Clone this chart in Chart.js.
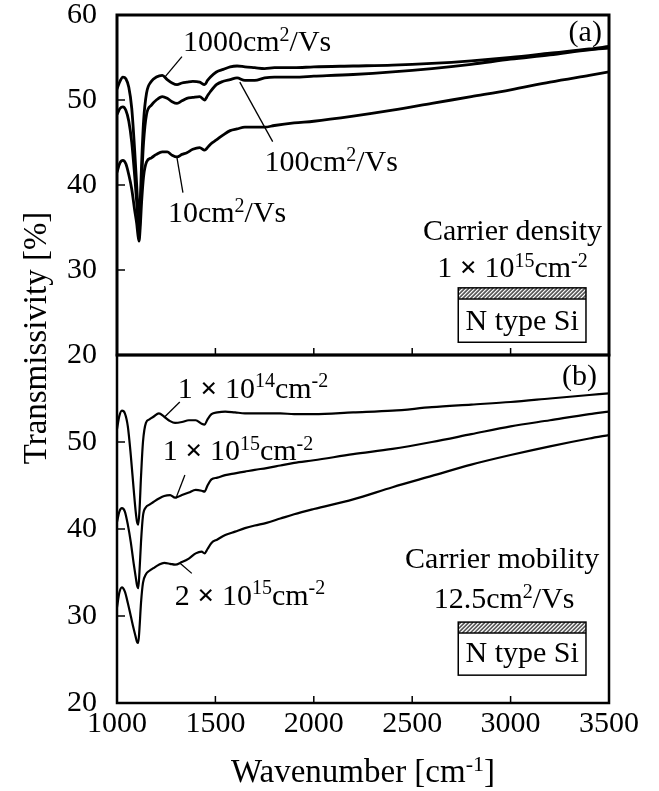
<!DOCTYPE html>
<html>
<head>
<meta charset="utf-8">
<title>Transmissivity spectra</title>
<script src="https://cdn.jsdelivr.net/npm/chart.js@4.4.0/dist/chart.umd.min.js"></script>
<style>
  body { margin: 0; background: #fff; }
  #wrap { position: relative; width: 659px; height: 791px; }
  #wrap canvas { position: absolute; left: 0; top: 0; }
</style>
</head>
<body>
<div id="wrap">
  <canvas id="panelA" width="659" height="791"></canvas>
  <canvas id="panelB" width="659" height="791"></canvas>
</div>
<script>
// (a) mobility series, carrier density 1e15 cm-2
const waveA = [1000, 1015, 1030, 1045, 1060, 1075, 1090, 1100, 1106, 1112, 1118, 1125, 1135, 1150, 1175, 1200,
  1230, 1255, 1280, 1305, 1330, 1355, 1385, 1420, 1445, 1460, 1475, 1505, 1540, 1575, 1610, 1650, 1700, 1750,
  1800, 1900, 2000, 2200, 2400, 2600, 2800, 3000, 3200, 3400, 3500];
const mob1000 = [51.3, 52.2, 52.7, 52.5, 51.5, 49.0, 44.0, 40.0, 37.5, 35.5, 38.0, 42.5, 47.5, 50.8, 52.2, 52.7,
  52.9, 52.4, 52.0, 51.8, 52.0, 52.1, 52.2, 52.1, 51.8, 52.3, 52.7, 53.3, 53.6, 53.9, 54.0, 53.9, 53.8, 53.7,
  53.8, 53.8, 53.9, 54.0, 54.1, 54.3, 54.6, 55.0, 55.5, 56.0, 56.3];
const mob100 = [48.3, 49.0, 49.2, 48.8, 47.5, 45.0, 41.0, 38.0, 36.0, 34.5, 36.5, 40.5, 45.0, 48.3, 49.4, 50.0,
  50.4, 50.2, 49.8, 49.6, 49.9, 50.2, 50.3, 50.4, 50.0, 50.5, 51.0, 51.8, 52.2, 52.4, 52.6, 52.3, 52.3, 52.6,
  52.7, 52.7, 52.8, 53.0, 53.3, 53.7, 54.2, 54.8, 55.3, 55.9, 56.1];
const mob10 = [41.5, 42.6, 42.9, 42.5, 41.2, 39.5, 37.0, 35.5, 34.2, 33.4, 35.0, 38.0, 41.0, 42.7, 43.2, 43.6,
  43.9, 43.9, 43.5, 43.3, 43.6, 43.8, 44.2, 44.4, 44.1, 44.4, 44.8, 45.3, 45.9, 46.4, 46.6, 46.8, 46.8, 46.8,
  47.0, 47.3, 47.5, 48.1, 48.8, 49.6, 50.4, 51.2, 52.1, 52.9, 53.3];

// (b) carrier density series, mobility 12.5 cm2/Vs
const waveB = [1000, 1012, 1025, 1040, 1055, 1070, 1085, 1095, 1102, 1108, 1114, 1122, 1132, 1147, 1165, 1185,
  1213, 1240, 1270, 1295, 1330, 1365, 1400, 1430, 1445, 1460, 1480, 1510, 1550, 1600, 1650, 1700, 1760, 1830,
  1900, 2000, 2200, 2400, 2600, 2800, 3000, 3200, 3400, 3500];
const dens1e14 = [51.5, 53.0, 53.6, 53.3, 51.8, 48.5, 44.5, 42.0, 40.8, 40.5, 42.0, 46.0, 50.0, 52.2, 52.6, 52.9,
  53.3, 52.9, 52.4, 52.2, 52.3, 52.5, 52.5, 52.1, 52.0, 52.6, 53.2, 53.4, 53.5, 53.4, 53.3, 53.3, 53.3, 53.3,
  53.2, 53.2, 53.4, 53.6, 54.0, 54.3, 54.6, 55.0, 55.4, 55.6];
const dens1e15 = [40.8, 42.0, 42.4, 42.0, 40.5, 38.5, 36.0, 34.5, 33.5, 33.2, 35.0, 38.5, 41.5, 42.5, 42.8, 43.1,
  43.5, 43.8, 43.9, 43.6, 43.9, 44.2, 44.5, 44.4, 44.3, 45.0, 45.7, 45.9, 46.2, 46.4, 46.6, 46.8, 47.0, 47.3,
  47.6, 47.9, 48.6, 49.2, 50.0, 50.9, 51.8, 52.5, 53.2, 53.5];
const dens2e15 = [31.0, 32.7, 33.3, 32.8, 31.5, 30.0, 28.5, 27.6, 27.0, 26.9, 28.5, 31.5, 33.8, 34.8, 35.2, 35.5,
  35.9, 36.1, 36.0, 35.9, 36.2, 36.6, 37.2, 37.4, 37.2, 37.7, 38.4, 38.8, 39.3, 39.7, 40.1, 40.4, 40.7, 41.2,
  41.7, 42.3, 43.4, 44.8, 46.1, 47.4, 48.5, 49.5, 50.4, 50.8];

const xTicks = [1000, 1500, 2000, 2500, 3000, 3500];
const yTicks = [20, 30, 40, 50, 60];

const SERIF = '"Liberation Serif", "Times New Roman", serif';

// text made of plain / superscript / bold pieces
function drawRich(ctx, parts, x, y, align, size) {
  const fontFor = k => k === 's' ? `${Math.round(size * 0.66)}px ${SERIF}`
    : k === 'b' ? `bold ${size}px ${SERIF}` : `${size}px ${SERIF}`;
  let w = 0;
  parts.forEach(([t, k]) => { ctx.font = fontFor(k); w += ctx.measureText(t).width; });
  let cx = align === 'center' ? x - w / 2 : align === 'right' ? x - w : x;
  ctx.textAlign = 'left';
  ctx.textBaseline = 'alphabetic';
  parts.forEach(([t, k]) => {
    ctx.font = fontFor(k);
    ctx.fillText(t, cx, k === 's' ? y - size * 0.34 : y);
    cx += ctx.measureText(t).width;
  });
}

// frame, inward ticks, labels with leader lines, sample sketch
const panelDecor = {
  id: 'panelDecor',
  afterDatasetsDraw(chart, args, opts) {
    const { ctx, chartArea: a, scales } = chart;
    const sx = v => scales.x.getPixelForValue(v);
    const sy = v => scales.y.getPixelForValue(v);
    ctx.save();
    ctx.strokeStyle = '#000';
    ctx.fillStyle = '#000';

    ctx.lineWidth = 1.5;
    ctx.beginPath();
    xTicks.slice(1, -1).forEach(v => { ctx.moveTo(sx(v), a.bottom); ctx.lineTo(sx(v), a.bottom - 7); });
    yTicks.slice(1, -1).forEach(v => { ctx.moveTo(a.left, sy(v)); ctx.lineTo(a.left + 8, sy(v)); });
    ctx.stroke();

    ctx.lineWidth = opts.frame;
    ctx.strokeRect(a.left, a.top, a.right - a.left, a.bottom - a.top);

    ctx.lineWidth = 1.3;
    opts.leaders.forEach(([x1, y1, x2, y2]) => {
      ctx.beginPath();
      ctx.moveTo(sx(x1), sy(y1));
      ctx.lineTo(sx(x2), sy(y2));
      ctx.stroke();
    });

    opts.notes.forEach(n => drawRich(ctx, n.parts, sx(n.x), sy(n.y), n.align, 30));

    // N type Si sample with hatched film on top
    const s = opts.sample;
    const l = sx(s.x0), r = sx(s.x1), t = sy(s.top), m = sy(s.film), b = sy(s.bottom);
    ctx.fillStyle = '#fff';
    ctx.fillRect(l, t, r - l, b - t);
    ctx.save();
    ctx.beginPath();
    ctx.rect(l, t, r - l, m - t);
    ctx.clip();
    ctx.strokeStyle = '#555';
    ctx.lineWidth = 1.6;
    ctx.beginPath();
    for (let hx = l - 20; hx < r + 20; hx += 4) { ctx.moveTo(hx, m); ctx.lineTo(hx + (m - t), t); }
    ctx.stroke();
    ctx.restore();
    ctx.strokeStyle = '#000';
    ctx.lineWidth = 1.5;
    ctx.strokeRect(l, t, r - l, b - t);
    ctx.beginPath();
    ctx.moveTo(l, m);
    ctx.lineTo(r, m);
    ctx.stroke();
    ctx.fillStyle = '#000';
    drawRich(ctx, [['N type Si', 'n']], sx(s.textX), sy(s.textY), 'center', 30);

    if (opts.titles) {
      drawRich(ctx, [['Wavenumber [cm', 'n'], ['-1', 's'], [']', 'n']], (a.left + a.right) / 2, 782, 'center', 33);
      ctx.save();
      ctx.translate(46, 338);
      ctx.rotate(-Math.PI / 2);
      drawRich(ctx, [['Transmissivity [%]', 'n']], 0, 0, 'center', 33);
      ctx.restore();
    }
    ctx.restore();
  }
};

function lineSet(xs, ys, width) {
  return {
    data: xs.map((x, i) => ({ x, y: ys[i] })),
    borderColor: '#000',
    borderWidth: width,
    pointRadius: 0,
    cubicInterpolationMode: 'monotone',
    fill: false
  };
}

// chart area is set by layout padding alone, so drop the label overhang padding
function noOverhang(s) {
  s.paddingTop = 0; s.paddingBottom = 0; s.paddingLeft = 0; s.paddingRight = 0;
}

function panelOptions(cfg) {
  return {
    responsive: false,
    animation: false,
    layout: { padding: cfg.padding },
    plugins: { legend: { display: false }, tooltip: { enabled: false }, panelDecor: cfg.decor },
    scales: {
      x: {
        type: 'linear', min: 1000, max: 3500, display: cfg.showX,
        afterFit: s => { if (cfg.showX) s.height = 88; noOverhang(s); },
        grid: { display: false, drawTicks: false },
        border: { display: false },
        ticks: {
          stepSize: 500, padding: 6, color: '#000', maxRotation: 0,
          font: { family: SERIF, size: 30, lineHeight: 1 },
          callback: v => String(v)
        }
      },
      y: {
        min: 20, max: 60,
        afterFit: s => { s.width = 117; noOverhang(s); },
        grid: { display: false, drawTicks: false },
        border: { display: false },
        ticks: {
          stepSize: 10, padding: 20, color: '#000',
          font: { family: SERIF, size: 30, lineHeight: 1 },
          callback: v => (cfg.hideTop && v === 60) ? '' : String(v)
        }
      }
    }
  };
}

const sup2 = [['cm', 'n'], ['2', 's'], ['/Vs', 'n']];
const perArea = [['cm', 'n'], ['-2', 's']];

new Chart(document.getElementById('panelA'), {
  type: 'line',
  data: { datasets: [lineSet(waveA, mob1000, 2.8), lineSet(waveA, mob100, 2.8), lineSet(waveA, mob10, 2.8)] },
  plugins: [panelDecor],
  options: panelOptions({
    padding: { top: 15, right: 50, bottom: 436, left: 0 },
    showX: false,
    hideTop: false,
    decor: {
      frame: 3,
      leaders: [[1330, 55.1, 1243, 52.7], [1624, 52.1, 1791, 45.1], [1304, 43.3, 1335, 39.1]],
      notes: [
        { x: 1335, y: 55.8, align: 'left', parts: [['1000', 'n'], ...sup2] },
        { x: 1750, y: 41.6, align: 'left', parts: [['100', 'n'], ...sup2] },
        { x: 1259, y: 35.6, align: 'left', parts: [['10', 'n'], ...sup2] },
        { x: 3464, y: 56.9, align: 'right', parts: [['(a)', 'n']] },
        { x: 3010, y: 33.5, align: 'center', parts: [['Carrier density', 'n']] },
        { x: 3010, y: 29.2, align: 'center', parts: [['1 ', 'n'], ['×', 'b'], [' 10', 'n'], ['15', 's'], ...perArea] }
      ],
      sample: { x0: 2734, x1: 3383, top: 27.9, film: 26.6, bottom: 21.5, textX: 3059, textY: 23.0 }
    }
  })
});

new Chart(document.getElementById('panelB'), {
  type: 'line',
  data: { datasets: [lineSet(waveB, dens1e14, 2.2), lineSet(waveB, dens1e15, 2.2), lineSet(waveB, dens2e15, 2.2)] },
  plugins: [panelDecor],
  options: panelOptions({
    padding: { top: 355, right: 50, bottom: 0, left: 0 },
    showX: true,
    hideTop: true,
    decor: {
      frame: 2.5,
      titles: true,
      leaders: [[1319, 54.6, 1243, 52.9], [1345, 46.2, 1299, 43.5], [1319, 36.1, 1380, 34.9]],
      notes: [
        { x: 1309, y: 55.1, align: 'left', parts: [['1 ', 'n'], ['×', 'b'], [' 10', 'n'], ['14', 's'], ...perArea] },
        { x: 1233, y: 47.9, align: 'left', parts: [['1 ', 'n'], ['×', 'b'], [' 10', 'n'], ['15', 's'], ...perArea] },
        { x: 1294, y: 31.3, align: 'left', parts: [['2 ', 'n'], ['×', 'b'], [' 10', 'n'], ['15', 's'], ...perArea] },
        { x: 3439, y: 56.6, align: 'right', parts: [['(b)', 'n']] },
        { x: 2957, y: 35.5, align: 'center', parts: [['Carrier mobility', 'n']] },
        { x: 2967, y: 30.9, align: 'center', parts: [['12.5', 'n'], ...sup2] }
      ],
      sample: { x0: 2734, x1: 3383, top: 29.3, film: 28.05, bottom: 23.2, textX: 3059, textY: 24.7 }
    }
  })
});
</script>
</body>
</html>
